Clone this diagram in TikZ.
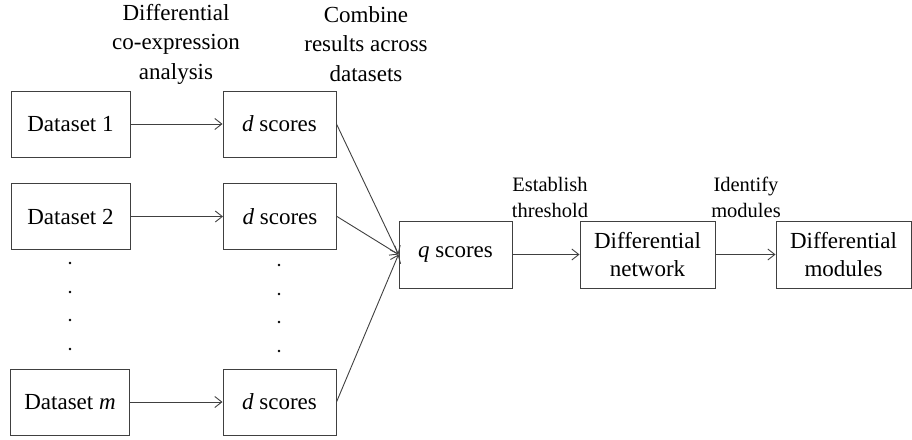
\documentclass[tikz,border=0pt]{standalone}
\usepackage{fontspec}
\setmainfont{Liberation Serif}
\usetikzlibrary{arrows.meta}
\begin{document}
\begin{tikzpicture}[x=1pt,y=-1pt,
  stage/.style={draw=black!75,line width=1pt,fill=white,inner sep=0pt,
    minimum height=66pt,align=center,font=\fontsize{23}{28}\selectfont},
  flow/.style={draw=black!75,line width=0.9pt,
    -{Straight Barb[length=7pt,width=11pt,line width=0.9pt]}},
  steplabel/.style={inner sep=0pt,align=center,font=\fontsize{23}{29.5}\selectfont},
  smalllabel/.style={inner sep=0pt,align=center,font=\fontsize{20.5}{26}\selectfont},
  vdot/.style={circle,fill=black,inner sep=0pt,minimum size=2.6pt}]
\useasboundingbox (0,0) rectangle (912,439);

% input datasets
\node[stage,minimum width=119pt] (ds1) at (70.5,124) {Dataset 1};
\node[stage,minimum width=119pt] (ds2) at (70.5,216.5) {Dataset 2};
\node[stage,minimum width=119pt] (dsm) at (70,402) {Dataset \textit{m}};

% per-dataset scores
\node[stage,minimum width=113pt] (d1) at (279.5,124) {\textit{d} scores};
\node[stage,minimum width=113pt] (d2) at (280,216.5) {\textit{d} scores};
\node[stage,minimum width=113pt] (dm) at (279.5,402) {\textit{d} scores};

% combined and downstream stages
\node[stage,minimum width=113pt,minimum height=67pt] (q) at (455.5,254.5) {\textit{q} scores};
\node[stage,minimum width=135pt,minimum height=67pt] (net) at (647.5,254.5) {Differential\\network};
\node[stage,minimum width=135pt,minimum height=67pt] (mod) at (843.5,254.5) {Differential\\modules};

% column headings
\node[steplabel] (h1) at (176,44) {Differential\\co-expression\\analysis};
\node[steplabel] (h2) at (366,44) {Combine\\results across\\datasets};
\node[smalllabel] (h3) at (550,197) {Establish\\threshold};
\node[smalllabel] (h4) at (746,197) {Identify\\modules};

% ellipsis dots
\foreach \i/\y in {1/263,2/292,3/320,4/349}{
  \node[vdot] (ldot\i) at (70,\y) {};
}
\foreach \i/\y in {1/265,2/294,3/322,4/351}{
  \node[vdot] (rdot\i) at (279,\y) {};
}

% connectors
\draw[flow] (ds1) -- (d1);
\draw[flow] (ds2) -- (d2);
\draw[flow] (dsm) -- (dm);
\draw[flow] (d1.east) -- (q.west);
\draw[flow] (d2.east) -- (q.west);
\draw[flow] (dm.east) -- (q.west);
\draw[flow] (q) -- (net);
\draw[flow] (net) -- (mod);
\end{tikzpicture}
\end{document}
